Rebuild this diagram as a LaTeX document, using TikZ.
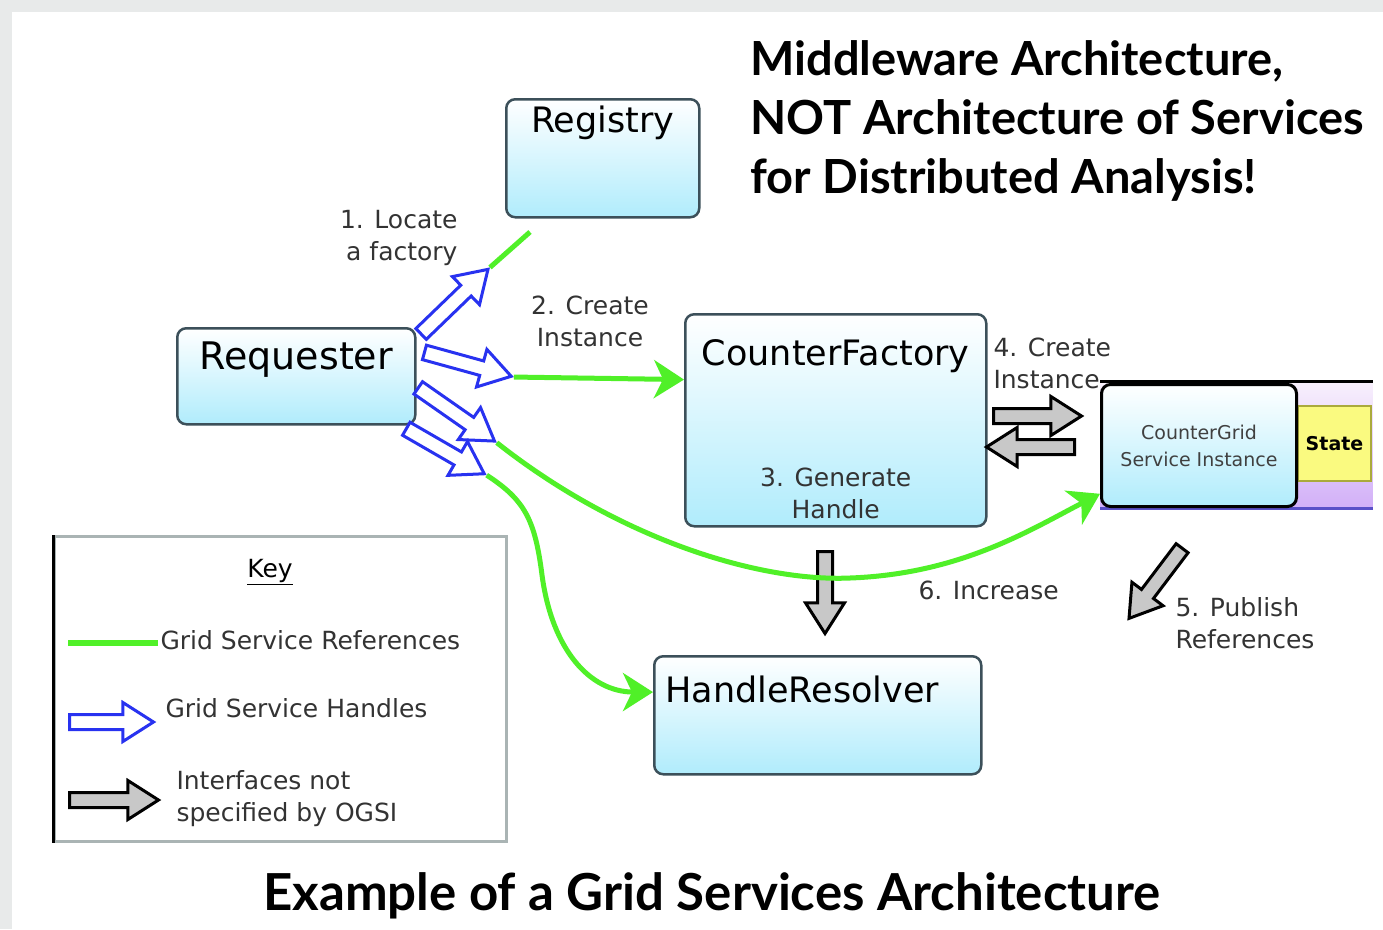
\documentclass[tikz,border=0pt]{standalone}
\usepackage{fontspec}
\setmainfont{DejaVu Sans}
\newfontfamily\titlefont{Lato}
\usetikzlibrary{positioning,shapes.arrows,arrows.meta}

\definecolor{refgreen}{RGB}{80,240,40}
\definecolor{handleblue}{RGB}{40,50,240}
\definecolor{boxcyan}{RGB}{176,236,252}
\definecolor{boxline}{RGB}{60,80,90}
\definecolor{ifgrey}{RGB}{200,200,200}
\definecolor{stateyellow}{RGB}{250,250,128}
\definecolor{stateline}{RGB}{170,170,60}
\definecolor{lavtop}{RGB}{248,240,252}
\definecolor{lavbot}{RGB}{210,176,248}
\definecolor{lavline}{RGB}{90,80,200}
\definecolor{keyline}{RGB}{170,180,180}
\definecolor{pagegrey}{RGB}{232,234,234}

\tikzset{every picture/.style={line width=1pt}}
\tikzset{
  svcbox/.style={draw=boxline, line width=2.5pt, rounded corners=9pt, top color=white, bottom color=boxcyan, anchor=north west, inner sep=0pt},
  boxtext/.style={font=\fontsize{35}{42}\selectfont, inner sep=0pt},
  steptext/.style={font=\fontsize{25}{32}\selectfont, text=black!80, inner sep=0pt, align=center},
  titletext/.style={font=\titlefont\bfseries\fontsize{47}{59}\selectfont, inner sep=0pt},
  gline/.style={draw=refgreen, line width=5pt},
  gref/.style={gline, -{Stealth[length=30pt,width=38pt,inset=9pt]}},
  harrow/.style={single arrow, draw=handleblue, fill=white, line width=3pt, minimum width=38pt, single arrow head extend=12pt, single arrow tip angle=65, inner sep=6pt, anchor=tail, minimum height=#1},
  iarrow/.style={harrow=#1, draw=black, fill=ifgrey}
}

\begin{document}
\begin{tikzpicture}[x=1pt,y=1pt,yscale=-1,xscale=1]
\useasboundingbox (0,0) rectangle (1383,929);
\fill[pagegrey] (0,0) rectangle (1383,929);
\fill[white] (12,12) rectangle (1383,929);

%Shape: Boxes
\node[svcbox, minimum width=193, minimum height=118] (reg) at (505,98) {};
\node[svcbox, minimum width=238, minimum height=96] (req) at (176,327) {};
\node[svcbox, minimum width=301, minimum height=212] (cfac) at (684,313) {};
\node[svcbox, minimum width=327, minimum height=118] (hres) at (653,655) {};

%Shape: instance with state
\node[anchor=north west, minimum width=272, minimum height=126, inner sep=0pt, top color=lavtop, bottom color=lavbot] (icase) at (1100,381) {};
\draw[line width=3pt] (icase.north west) -- (icase.north east);
\draw[lavline, line width=3pt] (icase.south west) -- (icase.south east);
\node[anchor=north west, draw=stateline, line width=2pt, fill=stateyellow, minimum width=73, minimum height=75, inner sep=0pt, font=\fontsize{19}{23}\selectfont\bfseries] (state) at (1297,405) {State};
\node[svcbox, draw=black, line width=3pt, minimum width=195, minimum height=122] (inst) at (1100,383) {};

% Text Node
\node[boxtext, below=7pt of reg.north] (regtxt) {Registry};
\node[boxtext, font=\fontsize{38}{44}\selectfont, below=14pt of req.north] (reqtxt) {Requester};
\node[boxtext, below=26pt of cfac.north] (cfactxt) {CounterFactory};
\node[steptext, above=8pt of cfac.south] (gentxt) {3. Generate\\Handle};
\node[boxtext, below right=20pt and 12pt of hres.north west] (hrestxt) {HandleResolver};
\node[inner sep=0pt, align=center, text=black!75, font=\fontsize{19}{27}\selectfont] (insttxt) at (inst.center) {CounterGrid\\Service Instance};

%Block arrows: grid service handles
\node[harrow=93, rotate=44] (hloc) at (420,335) {};
\node[harrow=90, rotate=-15.4] (hcre) at (423,352) {};
\node[harrow=93, rotate=-34.9] (hinc) at (417,387) {};
\node[harrow=90, rotate=-30] (hres4) at (405,428) {};

%Block arrows: other interfaces
\node[iarrow=88] (icre) at (992,416) {};
\node[iarrow=88, rotate=180] (iret) at (1076,447) {};
\node[iarrow=82, rotate=-90] (ihdl) at (825,550) {};
\node[iarrow=88, rotate=232.9] (ipub) at (1183,547) {};

%Curve Lines: grid service references
\coordinate (regfoot) at (530,232);
\draw[gline] (hloc.tip) -- (regfoot);
\draw[gref] (hcre.tip) -- (cfac.165);
\draw[gref] (hinc.tip) .. controls (620,540) and (760,582) .. (850,578) .. controls (960,574) and (1030,530) .. (inst.206);
\draw[gref] (hres4.tip) .. controls (525,500) and (535,520) .. (542,575) .. controls (552,650) and (590,692) .. (hres.172);

% Text Node
\node[steptext, anchor=east, align=right] (loctxt) at (458,238) {1. Locate\\a factory};
\node[steptext] (cretxt) at (590,321) {2. Create\\Instance};
\node[steptext, anchor=west, align=left] (ctxt4) at (993,363) {4. Create\\Instance};
\node[steptext, anchor=west, align=left] (pubtxt) at (1175,623) {5. Publish\\References};
\node[steptext, anchor=west] (inctxt) at (918,590) {6. Increase};

%Shape: Key
\node[anchor=north west, draw=keyline, line width=3pt, minimum width=452, minimum height=305, inner sep=0pt] (key) at (53,535) {};
\draw[line width=3pt] (key.north west) -- (key.south west);
\node[steptext, text=black] (keytxt) at (270,572) {\underline{Key}};
\coordinate (kg0) at (68,643);
\coordinate (kg1) at (158,643);
\draw[gline, line width=6pt] (kg0) -- (kg1);
\node[steptext, anchor=west] (kgtxt) at (160,640) {Grid Service References};
\node[harrow=84] (kh) at (68,722) {};
\node[steptext, anchor=west] (khtxt) at (165,708) {Grid Service Handles};
\node[iarrow=89] (ki) at (68,800) {};
\node[steptext, anchor=west, align=left] (kitxt) at (176,799) {Interfaces not\\specified by OGSI};

% Title Node
\node[titletext, anchor=north west, align=left] (title) at (750,40) {Middleware Architecture,\\NOT Architecture of Services\\for Distributed Analysis!};
\node[titletext, font=\titlefont\bfseries\fontsize{51}{60}\selectfont, anchor=base] (caption) at (712,910) {Example of a Grid Services Architecture};

\end{tikzpicture}
\end{document}
